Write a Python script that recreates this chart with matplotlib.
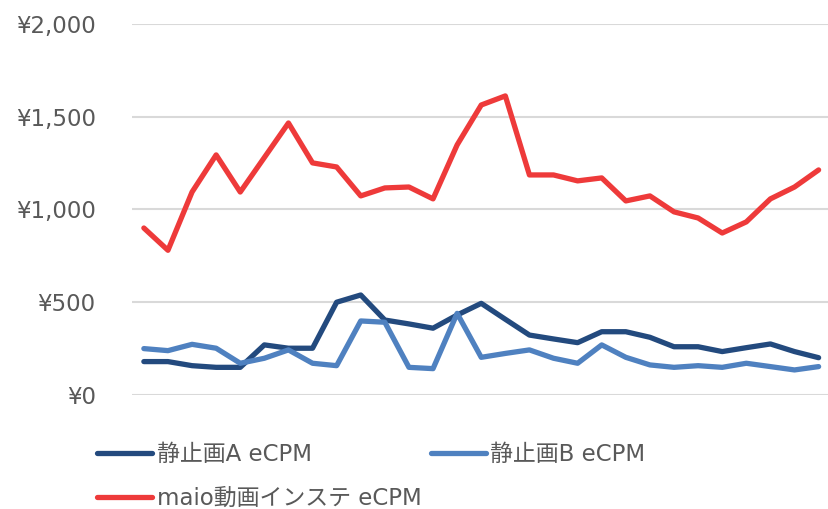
import matplotlib
matplotlib.use("Agg")
import matplotlib.pyplot as plt
import numpy as np

plt.rcParams['font.family'] = ['DejaVu Sans', 'Noto Sans CJK JP']

# values (yen)
still_a = [180, 180, 158, 149, 149, 270, 252, 252, 500, 539, 404, 383, 360, 431, 494,
           408, 323, 302, 282, 341, 341, 311, 260, 260, 234, 255, 275, 234, 201]
still_b = [250, 239, 273, 252, 171, 198, 243, 171, 158, 399, 392, 149, 142, 440, 203,
           224, 243, 198, 171, 270, 203, 162, 149, 158, 149, 171, 153, 135, 153]
maio_video = [900, 780, 1094, 1294, 1094, 1280, 1466, 1251, 1229, 1073, 1116, 1121, 1057, 1348, 1563,
              1612, 1186, 1186, 1154, 1170, 1046, 1073, 987, 954, 873, 933, 1057, 1121, 1213]
labels = ['静止画A eCPM', '静止画B eCPM', 'maio動画インステ eCPM']
yticks = [0, 500, 1000, 1500, 2000]

fig = plt.figure(figsize=(8.29, 5.09), dpi=100)
ax = fig.add_axes([0.159, 0.224, 0.843, 0.729])

x = np.arange(len(maio_video))
la, = ax.plot(x, still_a, color='#234A7E', lw=3.8, solid_capstyle='round', solid_joinstyle='round')
lb, = ax.plot(x, still_b, color='#4F81C0', lw=3.8, solid_capstyle='round', solid_joinstyle='round')
lm, = ax.plot(x, maio_video, color='#EE3A3A', lw=3.8, solid_capstyle='round', solid_joinstyle='round')

ax.set_xlim(-0.5, len(x) - 0.5)
ax.set_ylim(0, 2000)
ax.set_yticks(yticks)
ax.set_yticklabels(['¥{:,}'.format(v) for v in yticks])
ax.set_xticks([])
ax.tick_params(axis='y', length=0, pad=26, labelsize=16.5, labelcolor='#595959')
ax.yaxis.grid(True, color='#D9D9D9', lw=1.5)
ax.set_axisbelow(True)
for s in ax.spines.values():
    s.set_visible(False)

fig.legend([la, lm, lb], [labels[0], labels[2], labels[1]], ncol=2,
           loc='upper left', bbox_to_anchor=(0.106, 0.148), frameon=False,
           fontsize=16.5, labelcolor='#595959', handlelength=2.4, handletextpad=0.2,
           columnspacing=0.4, labelspacing=0.92, borderaxespad=0)

fig.savefig('out.png', dpi=100)
